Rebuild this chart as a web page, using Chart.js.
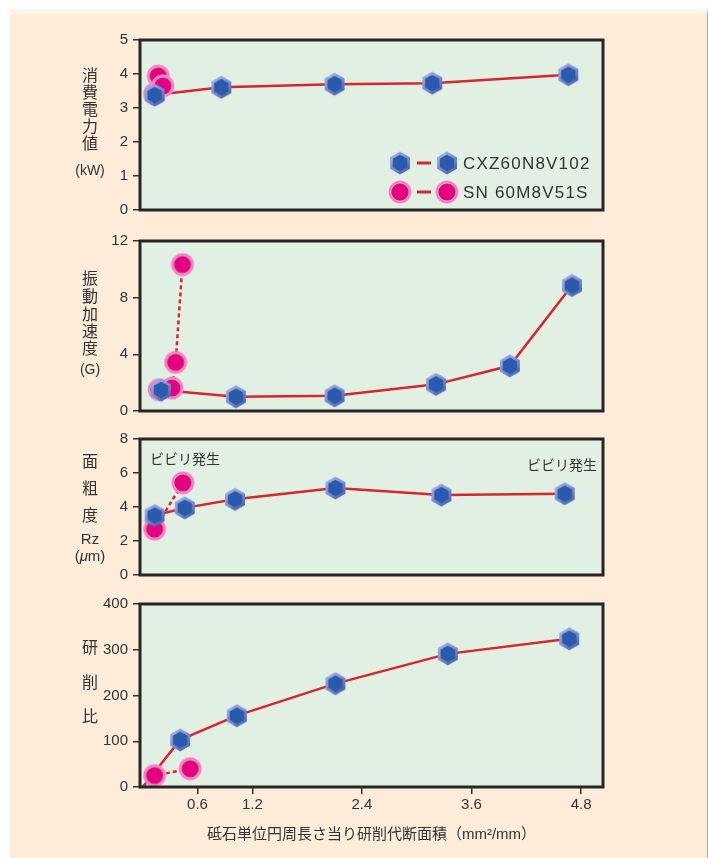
<!DOCTYPE html>
<html>
<head>
<meta charset="utf-8">
<script src="https://cdn.jsdelivr.net/npm/chart.js@4.4.1/dist/chart.umd.min.js"></script>
<style>
  html, body { margin: 0; padding: 0; background: #fff; }
  body { width: 708px; height: 858px; position: relative; overflow: hidden; }
  #panel {
    position: absolute; left: 10px; top: 9px; width: 698px; height: 849px;
    background: #fdecd9; border-top: 5px solid #fdf4e9; border-right: 1px solid #b9aa9a;
    box-sizing: border-box;
  }
  canvas { position: absolute; left: 0; }
</style>
</head>
<body>
<div id="panel"></div>
<canvas id="c1" width="708" height="200" style="top:25px"></canvas>
<canvas id="c2" width="708" height="200" style="top:226px"></canvas>
<canvas id="c3" width="708" height="166" style="top:424px"></canvas>
<canvas id="c4" width="708" height="258" style="top:589px"></canvas>
<script>
// shared x axis
const xTicks = [0.6, 1.2, 2.4, 3.6, 4.8];
const xMin = -0.03;
const xMax = 5.04;
const xTitle = '砥石単位円周長さ当り研削代断面積（mm²/mm）';

const seriesNames = ['CXZ60N8V102', 'SN 60M8V51S'];

// 消費電力値 (kW)
const powerCxzX = [0.13, 0.86, 2.10, 3.17, 4.66];
const powerCxzY = [3.38, 3.61, 3.70, 3.73, 3.98];
const powerSnX = [0.13, 0.17, 0.22];
const powerSnY = [3.42, 3.94, 3.65];
const powerTicks = [0, 5, 1];

// 振動加速度 (G)
const vibCxzX = [0.20, 1.02, 2.10, 3.21, 4.02, 4.70];
const vibCxzY = [1.48, 1.01, 1.08, 1.88, 3.19, 8.86];
const vibSnX = [0.18, 0.32, 0.36, 0.435];
const vibSnY = [1.50, 1.62, 3.43, 10.34];
const vibTicks = [0, 12, 4];

// 面粗度 Rz (μm)
const roughCxzX = [0.13, 0.46, 1.01, 2.11, 3.27, 4.62];
const roughCxzY = [3.50, 3.95, 4.45, 5.12, 4.70, 4.78];
const roughSnX = [0.13, 0.44];
const roughSnY = [2.70, 5.42];
const roughTicks = [0, 8, 2];

// 研削比
const ratioCxzX = [0, 0.41, 1.03, 2.11, 3.34, 4.67];
const ratioCxzY = [0, 103, 156, 226, 291, 324];
const ratioSnX = [0, 0.13, 0.52];
const ratioSnY = [0, 25, 40];
const ratioTicks = [0, 400, 100];

const FONT = '"Liberation Sans", "Noto Sans CJK JP", sans-serif';
const TEXT = '#333333';
const RED = '#d7262d';

// marker images
function hexImage() {
  const c = document.createElement('canvas');
  c.width = 24; c.height = 26;
  const g = c.getContext('2d');
  const hex = (r) => {
    g.beginPath();
    for (let i = 0; i < 6; i++) {
      const a = Math.PI / 3 * i - Math.PI / 2;
      const px = 12 + r * Math.cos(a), py = 13 + r * Math.sin(a);
      if (i) g.lineTo(px, py); else g.moveTo(px, py);
    }
    g.closePath();
  };
  const grad = g.createLinearGradient(3, 2, 21, 24);
  grad.addColorStop(0, '#a9b5e8');
  grad.addColorStop(0.5, '#7d8fd3');
  grad.addColorStop(1, '#3a55a0');
  hex(11.5); g.fillStyle = grad; g.fill();
  hex(8.3); g.fillStyle = '#2a5aab'; g.fill();
  return c;
}

function circleImage() {
  const c = document.createElement('canvas');
  c.width = 24; c.height = 24;
  const g = c.getContext('2d');
  g.beginPath(); g.arc(12, 12, 11.5, 0, Math.PI * 2);
  g.fillStyle = '#f29bce'; g.fill();
  g.beginPath(); g.arc(12, 12, 10.3, 0, Math.PI * 2);
  g.strokeStyle = '#e868b0'; g.lineWidth = 0.8; g.stroke();
  g.beginPath(); g.arc(12, 12, 8.6, 0, Math.PI * 2);
  g.fillStyle = '#e4037f'; g.fill();
  return c;
}

const HEX = hexImage();
const DOT = circleImage();

function toPoints(xs, ys) {
  return xs.map((x, i) => ({ x: x, y: ys[i] }));
}

function radii(xs, ys) {
  // the origin points only anchor the lines
  return xs.map((x, i) => (x === 0 && ys[i] === 0) ? 0 : 10);
}

function buildDatasets(cxzX, cxzY, snX, snY) {
  return [
    { label: seriesNames[0], data: toPoints(cxzX, cxzY), showLine: false,
      pointStyle: HEX, pointRadius: radii(cxzX, cxzY), order: 0 },
    { label: seriesNames[1], data: toPoints(snX, snY), showLine: false,
      pointStyle: DOT, pointRadius: radii(snX, snY), order: 1 },
    { label: seriesNames[0] + ' line', data: toPoints(cxzX, cxzY), showLine: true,
      borderColor: RED, borderWidth: 2.5, pointRadius: 0, order: 2 },
    { label: seriesNames[1] + ' line', data: toPoints(snX, snY), showLine: true,
      borderColor: RED, borderWidth: 2.5, borderDash: [4, 3], pointRadius: 0, order: 3 }
  ];
}

// decorations: plot background, frame, stacked y title, notes, legend
const decoPlugin = {
  id: 'deco',
  beforeDraw(chart, args, opts) {
    const { left, top, width, height } = chart.chartArea;
    const ctx = chart.ctx;
    ctx.save();
    ctx.fillStyle = '#e1f0e3';
    ctx.fillRect(left, top, width, height);
    ctx.restore();
  },
  afterDraw(chart, args, opts) {
    const ctx = chart.ctx;
    const { left, top, width, height } = chart.chartArea;
    const off = opts.offsetTop;
    ctx.save();
    ctx.strokeStyle = '#262626';
    ctx.lineWidth = 3;
    ctx.strokeRect(left, top, width, height);

    ctx.fillStyle = TEXT;
    ctx.textAlign = 'center';
    ctx.textBaseline = 'middle';
    (opts.yTitle || []).forEach(([txt, y, size]) => {
      if (txt === '(μm)') {
        // italic mu
        ctx.font = size + 'px ' + FONT;
        const w1 = ctx.measureText('(').width;
        const w3 = ctx.measureText('m)').width;
        ctx.font = 'italic ' + size + 'px ' + FONT;
        const w2 = ctx.measureText('μ').width;
        let x = 90 - (w1 + w2 + w3) / 2;
        ctx.textAlign = 'left';
        ctx.font = size + 'px ' + FONT;
        ctx.fillText('(', x, y - off);
        ctx.font = 'italic ' + size + 'px ' + FONT;
        ctx.fillText('μ', x + w1, y - off);
        ctx.font = size + 'px ' + FONT;
        ctx.fillText('m)', x + w1 + w2, y - off);
        ctx.textAlign = 'center';
      } else {
        ctx.font = size + 'px ' + FONT;
        ctx.fillText(txt, 90, y - off);
      }
    });

    ctx.font = '14px ' + FONT;
    (opts.notes || []).forEach(([txt, x, y]) => {
      ctx.fillText(txt, x, y - off);
    });

    if (opts.legend) {
      const rows = [[HEX, 163, seriesNames[0]], [DOT, 192, seriesNames[1]]];
      rows.forEach(([img, y, name]) => {
        const cy = y - off;
        ctx.strokeStyle = RED;
        ctx.lineWidth = 3;
        ctx.beginPath();
        ctx.moveTo(417, cy); ctx.lineTo(431, cy);
        ctx.stroke();
        ctx.drawImage(img, 400 - img.width / 2, cy - img.height / 2);
        ctx.drawImage(img, 447 - img.width / 2, cy - img.height / 2);
        ctx.textAlign = 'left';
        ctx.font = '17px ' + FONT;
        ctx.letterSpacing = '1.2px';
        ctx.fillText(name, 463, cy + 1);
        ctx.letterSpacing = '0px';
      });
    }
    ctx.restore();
  }
};

function makeChart(id, offsetTop, data, yRange, deco, showX) {
  const [yMin, yMax, step] = yRange;
  return new Chart(document.getElementById(id), {
    type: 'scatter',
    data: { datasets: buildDatasets(...data) },
    options: {
      responsive: false,
      animation: false,
      events: [],
      layout: { padding: { left: 0, right: 105, top: 15, bottom: showX ? 0 : 15 } },
      plugins: {
        legend: { display: false },
        tooltip: { enabled: false },
        deco: Object.assign({ offsetTop: offsetTop }, deco)
      },
      scales: {
        x: {
          type: 'linear',
          min: xMin,
          max: xMax,
          display: showX,
          afterBuildTicks: (s) => { s.ticks = xTicks.map(v => ({ value: v })); },
          afterFit: (s) => { s.height = showX ? 60 : 0; },
          border: { display: false },
          grid: { drawOnChartArea: false, drawTicks: true, tickLength: 7, color: '#333', lineWidth: 1.5 },
          ticks: {
            color: TEXT, padding: 2, maxRotation: 0,
            font: { family: FONT, size: 15 },
            callback: (v) => Number(v).toFixed(1)
          },
          title: {
            display: true, text: xTitle, color: TEXT,
            font: { family: FONT, size: 15 }, padding: { top: 0, bottom: 3 }
          }
        },
        y: {
          min: yMin,
          max: yMax,
          afterFit: (s) => { s.width = 140; },
          border: { display: false },
          grid: { drawOnChartArea: false, drawTicks: true, tickLength: 7, color: '#333', lineWidth: 1.5 },
          ticks: {
            stepSize: step, color: TEXT, padding: 5,
            font: { family: FONT, size: 15 }
          }
        }
      }
    },
    plugins: [decoPlugin]
  });
}

makeChart('c1', 25, [powerCxzX, powerCxzY, powerSnX, powerSnY], powerTicks, {
  yTitle: [['消', 77, 16], ['費', 94, 16], ['電', 111, 16], ['力', 128, 16], ['値', 145, 16], ['(kW)', 171, 14]],
  legend: true
}, false);

makeChart('c2', 226, [vibCxzX, vibCxzY, vibSnX, vibSnY], vibTicks, {
  yTitle: [['振', 280, 16], ['動', 298, 16], ['加', 316, 16], ['速', 333, 16], ['度', 350, 16], ['(G)', 370, 14]]
}, false);

makeChart('c3', 424, [roughCxzX, roughCxzY, roughSnX, roughSnY], roughTicks, {
  yTitle: [['面', 463, 16], ['粗', 490, 16], ['度', 517, 16], ['Rz', 540, 15], ['(μm)', 557, 15]],
  notes: [['ビビリ発生', 185, 460], ['ビビリ発生', 562, 466]]
}, false);

makeChart('c4', 589, [ratioCxzX, ratioCxzY, ratioSnX, ratioSnY], ratioTicks, {
  yTitle: [['研', 649, 16], ['削', 684, 16], ['比', 718, 16]]
}, true);
</script>
</body>
</html>
